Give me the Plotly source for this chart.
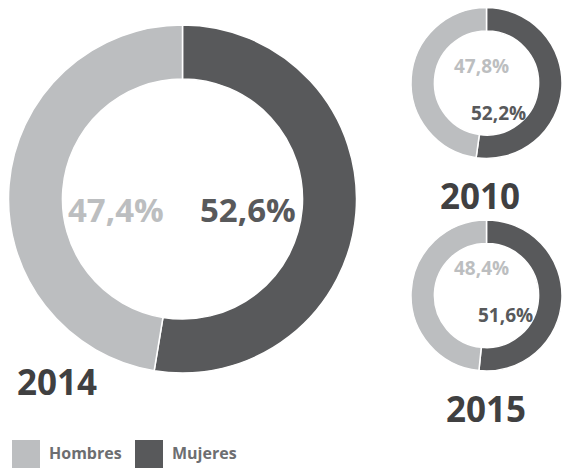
import plotly.graph_objects as go

# ---- data ----
categories = ["Mujeres", "Hombres"]
years = ["2014", "2010", "2015"]
mujeres = [52.6, 52.2, 51.6]
hombres = [47.4, 47.8, 48.4]
colors = {"Hombres": "#bcbec0", "Mujeres": "#58595b"}

W, H = 562, 468

def px_x(v):
    return v / W

def px_y(v):
    return 1 - v / H

# domains (pixel boxes -> paper)
boxes = {
    "2014": (8, 25, 357, 373),
    "2010": (411, 6, 562, 160),
    "2015": (411, 219, 562, 372),
}

fig = go.Figure()
for i, yr in enumerate(years):
    x0, y0, x1, y1 = boxes[yr]
    fig.add_trace(go.Pie(
        labels=categories,
        values=[mujeres[i], hombres[i]],
        hole=0.69,
        sort=False,
        direction="clockwise",
        rotation=0,
        textinfo="none",
        hoverinfo="label+value",
        marker=dict(colors=[colors[c] for c in categories],
                    line=dict(color="white", width=1.5)),
        domain=dict(x=[px_x(x0), px_x(x1)], y=[px_y(y1), px_y(y0)]),
        showlegend=False,
    ))

def fmt(v):
    return f"{v:.1f}".replace(".", ",") + "%"

FONT = "Open Sans"
ann = []
def add_text(text, x, y, size, color, family=FONT, xanchor="center"):
    ann.append(dict(text=f"<b>{text}</b>", x=px_x(x), y=px_y(y), xref="paper", yref="paper",
                    showarrow=False, xanchor=xanchor, yanchor="middle",
                    font=dict(family=family, size=size, color=color, weight=700)))

# big donut labels
add_text(fmt(hombres[0]), 116, 210, 33, colors["Hombres"])
add_text(fmt(mujeres[0]), 248, 210, 33, colors["Mujeres"])
add_text(years[0], 57, 381, 35, "#404041")
# 2010
add_text(fmt(hombres[1]), 481, 66, 19, colors["Hombres"])
add_text(fmt(mujeres[1]), 498, 113, 19, colors["Mujeres"])
add_text(years[1], 480, 195, 35, "#404041")
# 2015
add_text(fmt(hombres[2]), 481, 268, 19, colors["Hombres"])
add_text(fmt(mujeres[2]), 505, 315, 19, colors["Mujeres"])
add_text(years[2], 486, 408, 35, "#404041")

# legend
legend_items = [("Hombres", 12, 47), ("Mujeres", 135, 170)]
shapes = []
for name, sx, tx in legend_items:
    shapes.append(dict(type="rect", xref="paper", yref="paper",
                       x0=px_x(sx), x1=px_x(sx + 28), y0=px_y(468), y1=px_y(440),
                       fillcolor=colors[name], line=dict(width=0)))
    add_text(name, tx, 453, 16, "#6d6e71", xanchor="left")

fig.update_layout(
    width=W, height=H,
    margin=dict(l=0, r=0, t=0, b=0),
    paper_bgcolor="white", plot_bgcolor="white",
    annotations=ann, shapes=shapes,
    showlegend=False,
)

fig.write_html("out.html", config={"displayModeBar": False},
               post_script="document.body.style.margin='0';document.body.style.overflow='hidden';")
